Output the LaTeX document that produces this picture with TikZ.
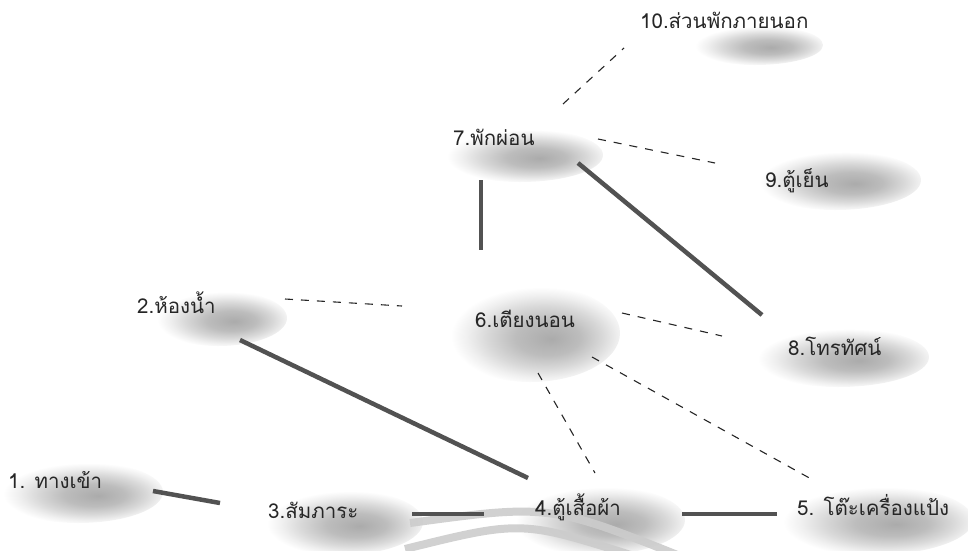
\documentclass[tikz,border=0pt]{standalone}
\usepackage{fontspec}
\newfontfamily\thaifont[Script=Thai]{Loma}
\usetikzlibrary{calc,shapes.geometric}
\pgfdeclareradialshading{blobshade}{\pgfpoint{6bp}{-3bp}}{color(0bp)=(black!33); color(9bp)=(black!26); color(16bp)=(black!15); color(21bp)=(black!6); color(25bp)=(white); color(50bp)=(white)}
\begin{document}
\begin{tikzpicture}[x=1pt,y=-1pt,
  blob/.style={ellipse, draw=none, shading=blobshade, inner sep=0pt},
  lbl/.style={anchor=base west, inner sep=0pt, text=black!85, font=\thaifont\fontsize{20.5}{22}\selectfont},
  solidc/.style={line width=4.5pt, draw=black!68},
  dashc/.style={line width=1.1pt, draw=black!85, dash pattern=on 8pt off 8pt},
  band/.style={line width=8pt, draw=black!20, opacity=0.9}]
\useasboundingbox (0,0) rectangle (968,550);
\begin{scope}
\clip (0,0) rectangle (968,550);
% blobs
\node[blob, minimum width=136pt, minimum height=40pt] (b10) at (755,45) {};
\node[blob, minimum width=166pt, minimum height=54pt] (b7) at (520,155) {};
\node[blob, minimum width=172pt, minimum height=60pt] (b9) at (835,180) {};
\node[blob, minimum width=138pt, minimum height=56pt] (b2) at (218,318) {};
\node[blob, minimum width=180pt, minimum height=98pt] (b6) at (530,333) {};
\node[blob, minimum width=182pt, minimum height=60pt] (b8) at (838,357) {};
\node[blob, minimum width=170pt, minimum height=62pt] (b1) at (78,492) {};
\node[blob, minimum width=166pt, minimum height=66pt] (b3) at (340,522) {};
\node[blob, minimum width=180pt, minimum height=70pt] (b4) at (595,520) {};
\node[blob, minimum width=202pt, minimum height=70pt] (b5) at (872,520) {};
% watermark arcs
\draw[band] (410,523) .. controls (550,504) .. (690,560);
\draw[band] (405,549) .. controls (522,520) .. (640,558);
\end{scope}
% connectors
\draw[dashc] ($(b7)+(43,-51)$) -- ($(b10)+(-131,3)$);
\draw[dashc] ($(b7)+(78,-16)$) -- ($(b9)+(-120,-17)$);
\draw[solidc] ($(b7)+(58,8)$) -- ($(b8)+(-76,-42)$);
\draw[solidc] ($(b7)+(-39,25)$) -- ($(b6)+(-49,-83)$);
\draw[dashc] ($(b2)+(67,-19)$) -- ($(b6)+(-128,-27)$);
\draw[dashc] ($(b6)+(92,-20)$) -- ($(b8)+(-116,-21)$);
\draw[solidc] ($(b2)+(22,22)$) -- ($(b4)+(-67,-42)$);
\draw[dashc] ($(b6)+(8,40)$) -- ($(b4)+(0,-47)$);
\draw[dashc] ($(b6)+(62,24)$) -- ($(b5)+(-59,-40)$);
\draw[solidc] ($(b1)+(75,-1)$) -- ($(b3)+(-120,-19)$);
\draw[solidc] ($(b3)+(72,-8)$) -- ($(b4)+(-111,-6)$);
\draw[solidc] ($(b4)+(87,-6)$) -- ($(b5)+(-95,-6)$);
% labels
\node[lbl] (t10) at (640,28) {10.ส่วนพักภายนอก};
\node[lbl] (t7) at (453,145) {7.พักผ่อน};
\node[lbl] (t9) at (765,187) {9.ตู้เย็น};
\node[lbl] (t2) at (137,313) {2.ห้องน้ำ};
\node[lbl] (t6) at (475,327) {6.เตียงนอน};
\node[lbl] (t8) at (788,355) {8.โทรทัศน์};
\node[lbl] (t1) at (8,488) {1. ทางเข้า};
\node[lbl] (t3) at (268,518) {3.สัมภาระ};
\node[lbl] (t4) at (535,515) {4.ตู้เสื้อผ้า};
\node[lbl] (t5) at (797,515) {5. โต๊ะเครื่องแป้ง};
\end{tikzpicture}
\end{document}
